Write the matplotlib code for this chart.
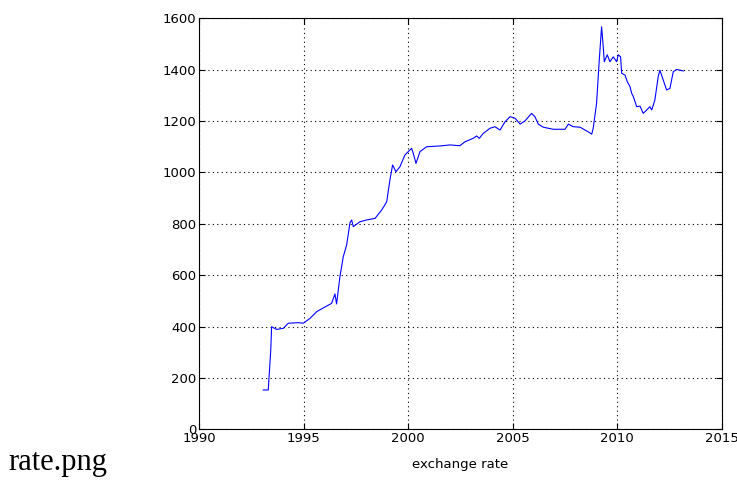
import matplotlib
matplotlib.use("Agg")
import matplotlib.pyplot as plt

years = [1993.06, 1993.30, 1993.42, 1993.46, 1993.70, 1994.02, 1994.26, 1994.74, 1994.98,
         1995.30, 1995.62, 1996.10, 1996.33, 1996.49, 1996.57, 1996.73, 1996.89, 1997.05,
         1997.21, 1997.29, 1997.37, 1997.69, 1998.01, 1998.41, 1998.73, 1998.97, 1999.12,
         1999.25, 1999.41, 1999.60, 1999.84, 2000.16, 2000.24, 2000.37, 2000.56, 2000.88,
         2001.52, 2002.00, 2002.47, 2002.71, 2003.11, 2003.27, 2003.40, 2003.59, 2003.91,
         2004.15, 2004.39, 2004.63, 2004.87, 2005.11, 2005.35, 2005.59, 2005.90, 2006.06,
         2006.22, 2006.46, 2006.94, 2007.50, 2007.66, 2007.89, 2008.22, 2008.61, 2008.78,
         2008.85, 2009.01, 2009.14, 2009.25, 2009.33, 2009.38, 2009.52, 2009.65, 2009.81,
         2009.97, 2010.05, 2010.16, 2010.21, 2010.37, 2010.48, 2010.61, 2010.69, 2010.77,
         2010.93, 2011.09, 2011.24, 2011.41, 2011.56, 2011.65, 2011.80, 2011.96, 2012.04,
         2012.20, 2012.36, 2012.52, 2012.68, 2012.84, 2013.00, 2013.16]
rate = [153, 153, 309, 399, 389, 393, 413, 415, 413,
        432, 458, 480, 490, 527, 488, 594, 672, 717,
        804, 815, 789, 808, 815, 821, 854, 886, 970,
        1029, 1003, 1022, 1068, 1094, 1074, 1035, 1081, 1100,
        1103, 1107, 1104, 1119, 1133, 1142, 1133, 1152, 1172,
        1178, 1165, 1197, 1217, 1211, 1188, 1201, 1230, 1217,
        1188, 1176, 1168, 1168, 1188, 1178, 1176, 1158, 1149,
        1172, 1269, 1438, 1567, 1489, 1431, 1458, 1431, 1450,
        1431, 1458, 1450, 1386, 1379, 1353, 1334, 1308, 1295,
        1256, 1258, 1230, 1243, 1256, 1243, 1282, 1373, 1398,
        1360, 1321, 1327, 1392, 1401, 1398, 1395]

xticks = [1990, 1995, 2000, 2005, 2010, 2015]
yticks = [0, 200, 400, 600, 800, 1000, 1200, 1400, 1600]

plt.rcParams['font.family'] = ['DejaVu Sans']

fig = plt.figure(figsize=(7.37, 4.88), dpi=100)
ax = fig.add_axes([0.2704, 0.1203, 0.7089, 0.8422])
ax.plot(years, rate, color=(0, 0, 1), linewidth=0.8)
ax.set_xlim(1990, 2015)
ax.set_ylim(0, 1600)
ax.set_xticks(xticks)
ax.set_yticks(yticks)
ax.grid(True, linestyle=(0, (1, 3)), color='black', linewidth=0.8)
ax.tick_params(direction='in', top=True, right=True, length=4, labelsize=9.5, pad=2)
for s in ax.spines.values():
    s.set_linewidth(0.8)
ax.set_xlabel('exchange rate', fontsize=9.5, labelpad=9)

fig.text(0.011, 0.037, 'rate.png', family=['Liberation Serif', 'DejaVu Serif'], fontsize=22)

fig.savefig('out.png', dpi=100)
